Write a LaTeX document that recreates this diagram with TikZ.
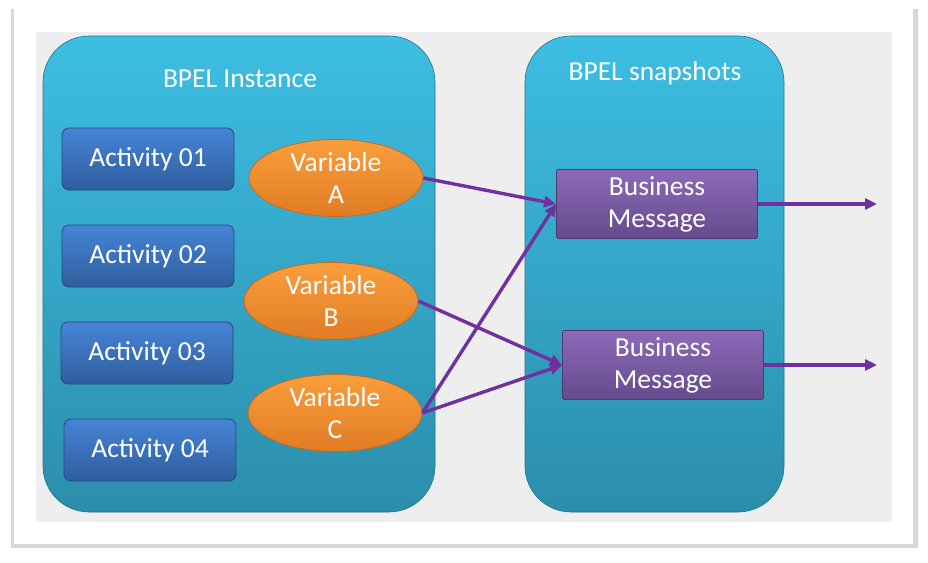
\documentclass[tikz,border=0pt]{standalone}
\usepackage{fontspec}
\setmainfont{Carlito}
\usetikzlibrary{shapes.geometric,shadows,arrows.meta}
\definecolor{bgray}{HTML}{EEEEEE}
\definecolor{cyantop}{HTML}{3DBEE3}
\definecolor{cyanbot}{HTML}{2B8EAB}
\definecolor{acttop}{HTML}{4684D6}
\definecolor{actbot}{HTML}{2F5E9E}
\definecolor{actline}{HTML}{264B80}
\definecolor{vartop}{HTML}{FA9E3C}
\definecolor{varbot}{HTML}{E07C24}
\definecolor{varline}{HTML}{C86A1C}
\definecolor{msgtop}{HTML}{8C6AB8}
\definecolor{msgbot}{HTML}{654A8C}
\definecolor{msgline}{HTML}{4E3870}
\definecolor{flow}{HTML}{7030A0}
\begin{document}
\begin{tikzpicture}[x=1pt,y=-1pt,>={Triangle[length=12pt,width=11pt]}]
 \tikzstyle{every node}=[font=\fontsize{27.5}{32}\selectfont,text=white,align=center,inner sep=0pt];
    \tikzstyle{container}=[rounded corners=46pt,top color=cyantop,bottom color=cyanbot,draw=cyanbot!80!black,line width=0.6pt];
    \tikzstyle{activity}=[rectangle,rounded corners=7pt,minimum width=172pt,minimum height=62pt,top color=acttop,bottom color=actbot,draw=actline,line width=0.8pt];
    \tikzstyle{varbubble}=[ellipse,minimum width=174pt,minimum height=77pt,top color=vartop,bottom color=varbot,draw=varline,line width=0.8pt];
    \tikzstyle{message}=[rectangle,rounded corners=2pt,minimum width=201pt,minimum height=69pt,top color=msgtop,bottom color=msgbot,draw=msgline,line width=0.8pt];
    \tikzstyle{flowline}=[draw=flow,line width=3.4pt,->];
    \useasboundingbox (0,0) rectangle (928,562);
    % frame and backdrop
    \node at (463.5,276.5) (frame) [rectangle,fill=white,minimum width=899pt,minimum height=535pt,drop shadow={shadow xshift=1pt,shadow yshift=-2pt,shadow scale=1.008,opacity=0.22,fill=black!70}] {};
    \node at (464,277) (back) [rectangle,fill=bgray,minimum width=856pt,minimum height=490pt] {};
    % containers
    \node at (239,274) (inst) [container,minimum width=392pt,minimum height=476pt] {};
    \node at (654.5,274) (snap) [container,minimum width=259pt,minimum height=476pt] {};
    \node at (240,79) (insttitle) {BPEL Instance};
    \node at (655,73) (snaptitle) {BPEL snapshots};
    % activities
    \node at (148,159) (act1) [activity] {Activity 01};
    \node at (148,256) (act2) [activity] {Activity 02};
    \node at (147,353) (act3) [activity] {Activity 03};
    \node at (150,450) (act4) [activity] {Activity 04};
    % variables
    \node at (336,178) (varA) [varbubble] {Variable\\A};
    \node at (331,301) (varB) [varbubble] {Variable\\B};
    \node at (335,413) (varC) [varbubble] {Variable\\C};
    % snapshots
    \node at (657,204) (msg1) [message] {Business\\Message};
    \node at (663,365) (msg2) [message] {Business\\Message};
    \coordinate (out1) at (877,204);
    \coordinate (out2) at (877,365);
    \draw[flowline] (varA.east) -- (msg1.west);
    \draw[flowline] (varC.east) -- (msg1.west);
    \draw[flowline] (varB.east) -- (msg2.west);
    \draw[flowline] (varC.east) -- (msg2.west);
    \draw[flowline] (msg1.east) -- (out1);
    \draw[flowline] (msg2.east) -- (out2);
\end{tikzpicture}
\end{document}
